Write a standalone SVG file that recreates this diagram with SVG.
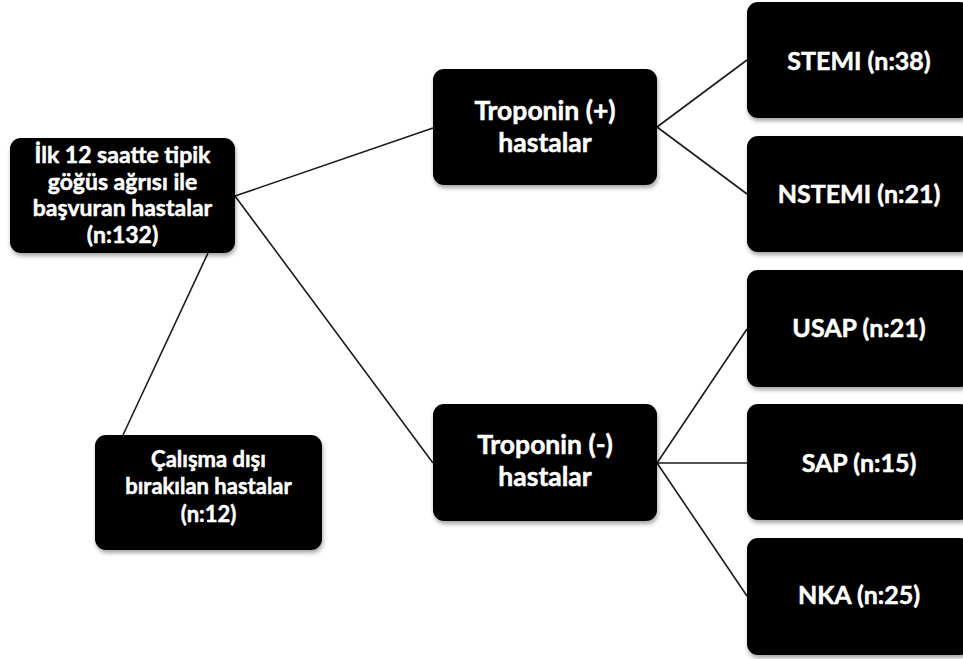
<svg xmlns="http://www.w3.org/2000/svg" width="963" height="659" viewBox="0 0 963 659">
<defs>
<filter id="sh" x="-10%" y="-10%" width="130%" height="140%">
<feDropShadow dx="1" dy="3" stdDeviation="2" flood-color="#000" flood-opacity="0.35"/>
</filter>
<style>
.box{fill:#000;filter:url(#sh)}
.t{fill:#fff;stroke:#fff;stroke-width:0.5;font-family:Lato,"Open Sans","DejaVu Sans",sans-serif;font-weight:bold;text-anchor:middle}
.s23{font-size:23px}
.s22{font-size:22px}
.s26{font-size:26.5px}
.s25{font-size:25px}
.c{stroke:#1a1a1a;stroke-width:1.6;fill:none}
</style>
</defs>
<rect width="963" height="659" fill="#fff"/>
<g id="connectors">
<line class="c" x1="235" y1="196" x2="433" y2="128"/>
<line class="c" x1="235" y1="196" x2="433" y2="463"/>
<line class="c" x1="208" y1="253" x2="123" y2="435"/>
<line class="c" x1="657" y1="127" x2="747" y2="60"/>
<line class="c" x1="657" y1="127" x2="747" y2="194"/>
<line class="c" x1="657" y1="463" x2="747" y2="329"/>
<line class="c" x1="657" y1="463" x2="747" y2="463"/>
<line class="c" x1="657" y1="463" x2="747" y2="596"/>
</g>
<g id="main">
<rect class="box" x="10" y="138" width="225" height="115" rx="11"/>
<text class="t s23" x="122.5" y="163">İlk 12 saatte tipik</text>
<text class="t s23" x="122.5" y="190">göğüs ağrısı ile</text>
<text class="t s23" x="122.5" y="216">başvuran hastalar</text>
<text class="t s23" x="122.5" y="243">(n:132)</text>
</g>
<g id="excluded">
<rect class="box" x="95" y="435" width="227" height="115" rx="11"/>
<text class="t s22" x="208.5" y="467">Çalışma dışı</text>
<text class="t s22" x="208.5" y="494">bırakılan hastalar</text>
<text class="t s22" x="208.5" y="522">(n:12)</text>
</g>
<g id="tropPos">
<rect class="box" x="433" y="69" width="224" height="116" rx="11"/>
<text class="t s26" x="545" y="120">Troponin (+)</text>
<text class="t s26" x="545" y="152">hastalar</text>
</g>
<g id="tropNeg">
<rect class="box" x="433" y="404" width="224" height="117" rx="11"/>
<text class="t s26" x="545" y="454">Troponin (-)</text>
<text class="t s26" x="545" y="486">hastalar</text>
</g>
<g id="stemi">
<rect class="box" x="747" y="2" width="224" height="116" rx="11"/>
<text class="t s25" x="859" y="70">STEMI (n:38)</text>
</g>
<g id="nstemi">
<rect class="box" x="747" y="136" width="224" height="116" rx="11"/>
<text class="t s25" x="859" y="203">NSTEMI (n:21)</text>
</g>
<g id="usap">
<rect class="box" x="747" y="270" width="224" height="117" rx="11"/>
<text class="t s25" x="859" y="337">USAP (n:21)</text>
</g>
<g id="sap">
<rect class="box" x="747" y="404" width="224" height="116" rx="11"/>
<text class="t s25" x="859" y="472">SAP (n:15)</text>
</g>
<g id="nka">
<rect class="box" x="747" y="538" width="224" height="117" rx="11"/>
<text class="t s25" x="859" y="604">NKA (n:25)</text>
</g>
</svg>
